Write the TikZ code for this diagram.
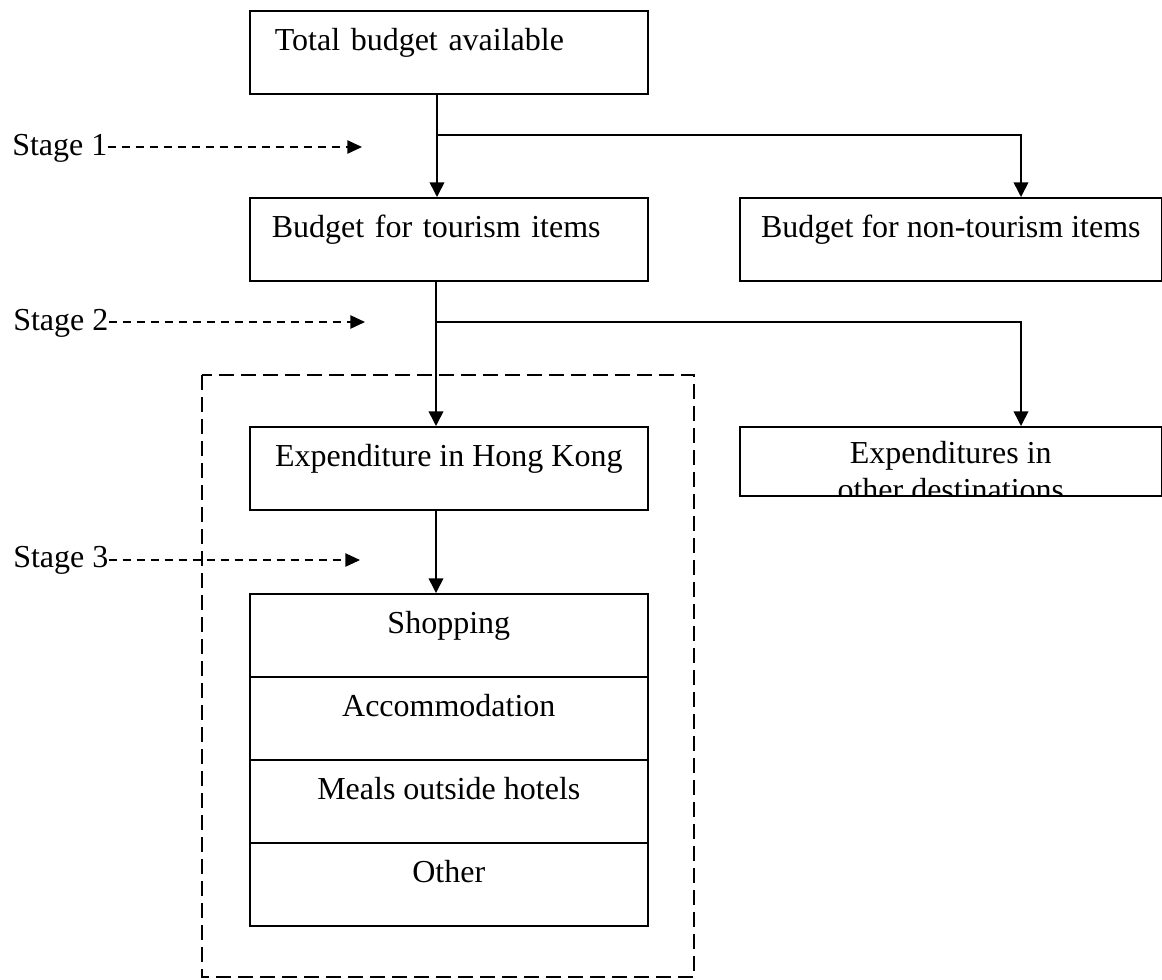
\documentclass[tikz,border=0pt]{standalone}
\usepackage{fontspec}
\setmainfont{Liberation Serif}
\usetikzlibrary{arrows.meta}
\begin{document}
\begin{tikzpicture}[x=0.75pt,y=-0.75pt,
  every node/.style={font=\fontsize{24}{28}\selectfont},
  boxbase/.style={draw, line width=1.2pt, rectangle, inner ysep=0pt,
    text height=30pt, text depth=32.25pt, anchor=north west},
  lboxc/.style={boxbase, inner xsep=0pt, minimum width=298.5pt},
  lboxl/.style={boxbase, inner xsep=#1, text width=298.5pt-2*#1, align=left},
  rboxc/.style={boxbase, inner xsep=0pt, minimum width=316.5pt},
  arr/.style={line width=1.2pt, -{Triangle[length=11pt,width=11pt]}},
  darr/.style={line width=1.1pt, dash pattern=on 6pt off 4.5pt, -{Triangle[length=11pt,width=10pt]}},
  dashbox/.style={line width=1.3pt, dash pattern=on 11pt off 5.5pt},
  stagelbl/.style={anchor=base west, inner xsep=0pt}
]
\useasboundingbox (0,0) rectangle (1162,979);

% boxes
\node[lboxl=18.75pt] (total) at (249,10) {Total budget available};
\node[lboxl=16.5pt] (tour) at (249,197) {Budget for tourism items};
\node[rboxc] (nontour) at (739,197) {Budget for non-tourism items};
\node[lboxc] (hk) at (249,426) {Expenditure in Hong Kong};
\node[draw, line width=1.2pt, rectangle, inner sep=0pt, minimum width=316.5pt,
      minimum height=51.75pt, anchor=north west] (other) at (739,426) {};
\begin{scope}
  \clip (other.north west) rectangle (other.south east);
  \node[anchor=base] (od1) at ([yshift=-28pt]other.north) {Expenditures in};
  \node[anchor=base] (od2) at ([yshift=-55.5pt]other.north) {other destinations};
\end{scope}

\node[lboxc] (cell1) at (249,593) {Shopping};
\node[lboxc] (cell2) at (249,676) {Accommodation};
\node[lboxc] (cell3) at (249,759) {Meals outside hotels};
\node[lboxc] (cell4) at (249,842) {Other};

% dashed frame
\draw[dashbox] (202,375) rectangle (694,977);

% connectors
\coordinate (j1) at (437,135);
\coordinate (j2) at (1021,135);
\coordinate (k1) at (436,322);
\coordinate (k2) at (1021,322);
\draw[arr] (total.south -| j1) -- (tour.north -| j1);
\draw[arr] (j1) -- (j2) -- (nontour.north -| j2);
\draw[arr] (tour.south -| k1) -- (hk.north -| k1);
\draw[arr] (k1) -- (k2) -- (other.north -| k2);
\draw[arr] (hk.south -| k1) -- (cell1.north -| k1);

% stages
\node[stagelbl] (stage1) at (12,155) {Stage 1};
\node[stagelbl] (stage2) at (13,330) {Stage 2};
\node[stagelbl] (stage3) at (13,567) {Stage 3};
\coordinate (s1) at (362,147);
\coordinate (s2) at (365,322);
\coordinate (s3) at (360,560);
\draw[darr] (stage1.east |- s1) -- (s1);
\draw[darr] (stage2.east |- s2) -- (s2);
\draw[darr] (stage3.east |- s3) -- (s3);
\end{tikzpicture}
\end{document}
